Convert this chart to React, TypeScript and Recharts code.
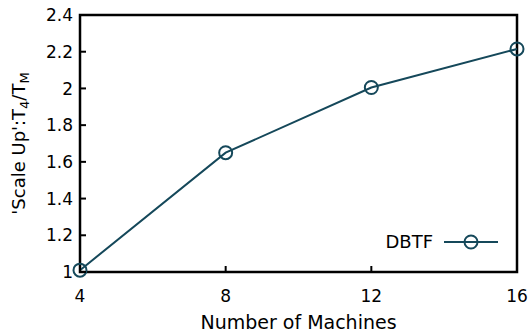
import React from 'react';
import { LineChart, Line, XAxis, YAxis, ReferenceArea } from 'recharts';

const machines = [4, 8, 12, 16];
const scaleUp = [1.01, 1.65, 2.005, 2.215];
const yTicks = [1, 1.2, 1.4, 1.6, 1.8, 2, 2.2, 2.4];
const seriesName = 'DBTF';

const data = machines.map((m, i) => ({ machines: m, dbtf: scaleUp[i] }));

const FONT = '"DejaVu Sans", Verdana, sans-serif';
const LINE_COLOR = '#15485a';
const TICK_LEN = 6;

const fmt = (v: number) => (Number.isInteger(v) ? String(v) : v.toFixed(1));

const BottomTick = (props: any) => {
  const { x, y, payload } = props;
  return (
    <g>
      <line x1={x} y1={y} x2={x} y2={y - TICK_LEN} stroke="#000" strokeWidth={2} />
      <text x={x} y={y + 30} textAnchor="middle" fontFamily={FONT} fontSize={17} fill="#000">
        {payload.value}
      </text>
    </g>
  );
};

const TopTick = (props: any) => {
  const { x, y } = props;
  return <line x1={x} y1={y} x2={x} y2={y + TICK_LEN} stroke="#000" strokeWidth={2} />;
};

const LeftTick = (props: any) => {
  const { x, y, payload } = props;
  return (
    <g>
      <line x1={x} y1={y} x2={x + TICK_LEN} y2={y} stroke="#000" strokeWidth={2} />
      <text x={x - 7} y={y} dy="0.36em" textAnchor="end" fontFamily={FONT} fontSize={17} fill="#000">
        {fmt(payload.value)}
      </text>
    </g>
  );
};

const RightTick = (props: any) => {
  const { x, y } = props;
  return <line x1={x} y1={y} x2={x - TICK_LEN} y2={y} stroke="#000" strokeWidth={2} />;
};

// plot frame drawn from the reference area's computed rectangle
const Frame = (props: any) => {
  const { x, y, width, height } = props;
  return <rect x={x} y={y} width={width} height={height} fill="none" stroke="#000" strokeWidth={2.5} />;
};

const YLabel = (props: any) => {
  const vb = props.viewBox;
  const cx = 25;
  const cy = vb.y + vb.height / 2;
  return (
    <text
      x={cx}
      y={cy}
      textAnchor="middle"
      transform={`rotate(-90, ${cx}, ${cy})`}
      fontFamily={FONT}
      fontSize={18}
      fill="#000"
    >
      'Scale Up':T
      <tspan dy={4} fontSize={13}>4</tspan>
      <tspan dy={-4}>/T</tspan>
      <tspan dy={4} fontSize={13}>M</tspan>
    </text>
  );
};

const LegendBox = () => (
  <div
    style={{
      position: 'absolute',
      left: 0,
      top: 231,
      width: 499,
      display: 'flex',
      justifyContent: 'flex-end',
      alignItems: 'center',
      fontFamily: FONT,
      fontSize: 18,
      color: '#000',
    }}
  >
    <span>{seriesName}</span>
    <svg width={56} height={20} style={{ marginLeft: 10 }}>
      <line x1={1} y1={10} x2={55} y2={10} stroke={LINE_COLOR} strokeWidth={2} />
      <circle cx={28} cy={10} r={6.5} fill="none" stroke={LINE_COLOR} strokeWidth={2} />
    </svg>
  </div>
);

export default function App() {
  return (
    <div style={{ position: 'absolute', left: 0, top: 0, width: 529, height: 333, background: '#fff' }}>
      <LineChart width={529} height={333} data={data} margin={{ top: 15, right: 12, bottom: 0, left: 0 }}>
        <XAxis
          xAxisId="bottom"
          dataKey="machines"
          type="number"
          domain={[4, 16]}
          ticks={machines}
          height={61}
          tickSize={0}
          tickMargin={0}
          tickLine={false}
          tick={<BottomTick />}
          axisLine={false}
          label={{
            value: 'Number of Machines',
            position: 'insideBottom',
            offset: 4,
            style: { fontFamily: FONT, fontSize: 19, fill: '#000' },
          }}
        />
        <XAxis
          xAxisId="top"
          orientation="top"
          dataKey="machines"
          type="number"
          domain={[4, 16]}
          ticks={machines}
          height={0}
          tickSize={0}
          tickMargin={0}
          tickLine={false}
          tick={<TopTick />}
          axisLine={false}
        />
        <YAxis
          yAxisId="left"
          type="number"
          domain={[1, 2.4]}
          ticks={yTicks}
          width={80}
          tickSize={0}
          tickMargin={0}
          tickLine={false}
          tick={<LeftTick />}
          axisLine={false}
          label={<YLabel />}
        />
        <YAxis
          yAxisId="right"
          orientation="right"
          type="number"
          domain={[1, 2.4]}
          ticks={yTicks}
          width={0}
          tickSize={0}
          tickMargin={0}
          tickLine={false}
          tick={<RightTick />}
          axisLine={false}
        />
        <ReferenceArea
          xAxisId="bottom"
          yAxisId="left"
          x1={4}
          x2={16}
          y1={1}
          y2={2.4}
          ifOverflow="visible"
          shape={<Frame />}
        />
        <Line
          xAxisId="bottom"
          yAxisId="left"
          type="linear"
          dataKey="dbtf"
          name={seriesName}
          stroke={LINE_COLOR}
          strokeWidth={2}
          dot={{ r: 6.5, fill: 'none', stroke: LINE_COLOR, strokeWidth: 2 }}
          isAnimationActive={false}
        />
      </LineChart>
      <LegendBox />
    </div>
  );
}
